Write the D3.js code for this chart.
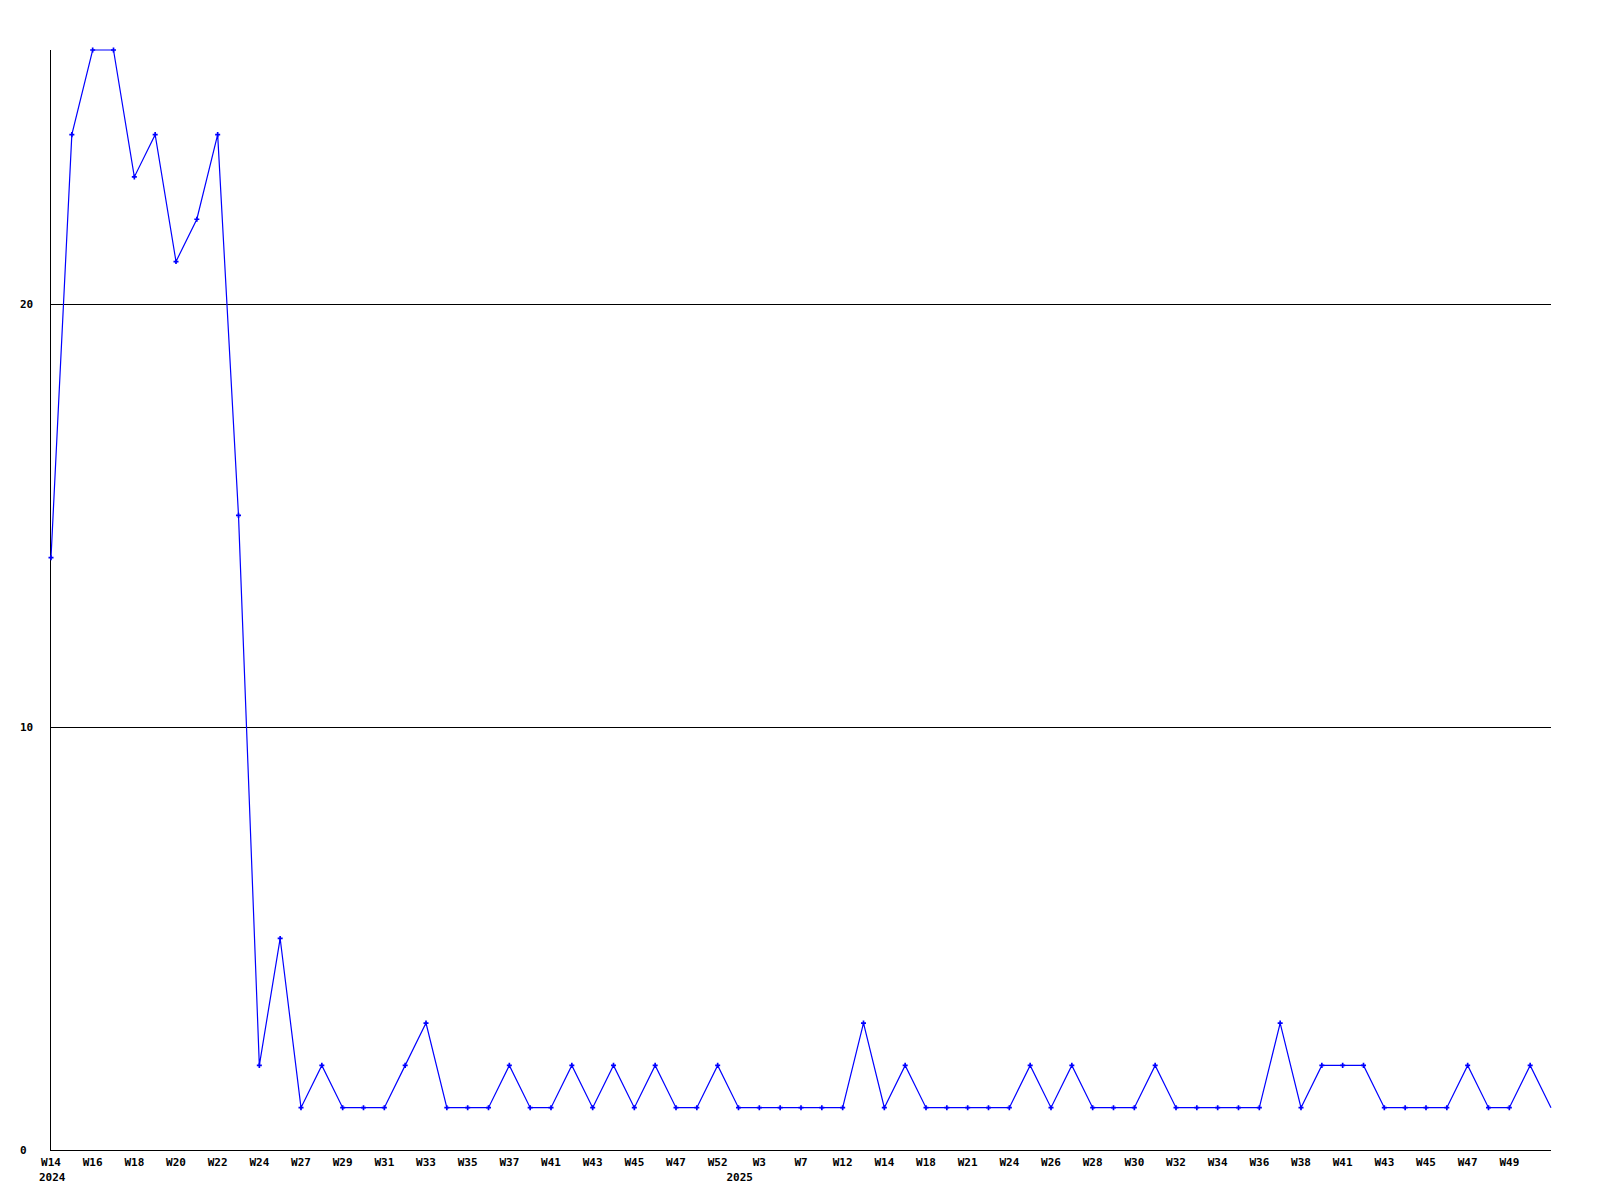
<!DOCTYPE html>
<html lang="en">
<head>
<meta charset="UTF-8">
<title>Weekly counts</title>
<script src="https://d3js.org/d3.v7.min.js"></script>
<style>
  body { margin: 0; background: #fff; }
  text { font-family: "DejaVu Sans Mono", monospace; font-weight: bold; font-size: 11px; fill: #000; }
</style>
</head>
<body>
<svg id="chart" width="1600" height="1200"></svg>
<script>
// one entry per week, 2024 W14 .. 2025 W51
var weeks = ["W14","W15","W16","W17","W18","W19","W20","W21","W22","W23","W24","W26",
  "W27","W28","W29","W30","W31","W32","W33","W34","W35","W36","W37","W40",
  "W41","W42","W43","W44","W45","W46","W47","W50","W52","W2","W3","W5",
  "W7","W10","W12","W13","W14","W16","W18","W20","W21","W23","W24","W25",
  "W26","W27","W28","W29","W30","W31","W32","W33","W34","W35","W36","W37",
  "W38","W40","W41","W42","W43","W44","W45","W46","W47","W48","W49","W50","W51"];
var counts = [14,24,26,26,23,24,21,22,24,15,2,5,
  1,2,1,1,1,2,3,1,1,1,2,1,
  1,2,1,2,1,2,1,1,2,1,1,1,
  1,1,1,3,1,2,1,1,1,1,1,2,
  1,2,1,1,1,2,1,1,1,1,1,3,
  1,2,2,2,1,1,1,1,2,1,1,2,1];
// index of first week of each year
var yearStarts = [[0, "2024"], [33, "2025"]];
var yTicks = [0, 10, 20];

var svg = d3.select("#chart");
var plotL = 51, plotR = 1551, plotT = 50, plotB = 1150;

var x = d3.scalePoint().domain(d3.range(weeks.length)).range([plotL, plotR]);
var y = d3.scaleLinear().domain([0, 26]).range([plotB, plotT]);

// grid lines
svg.append("g").selectAll("line")
  .data(yTicks.filter(d => d > 0))
  .enter().append("line")
  .attr("x1", plotL - 1).attr("x2", plotR)
  .attr("y1", d => Math.round(y(d)) + 0.5).attr("y2", d => Math.round(y(d)) + 0.5)
  .attr("stroke", "#000");

// axes
svg.append("line").attr("x1", plotL - 0.5).attr("x2", plotL - 0.5)
  .attr("y1", plotT).attr("y2", plotB).attr("stroke", "#000");
svg.append("line").attr("x1", plotL - 1).attr("x2", plotR)
  .attr("y1", plotB + 0.5).attr("y2", plotB + 0.5).attr("stroke", "#000");

svg.append("g").selectAll("text")
  .data(yTicks)
  .enter().append("text")
  .attr("x", 20).attr("y", d => y(d)).attr("dy", "0.35em")
  .text(d => d);

// week labels, every second week
svg.append("g").selectAll("text")
  .data(d3.range(0, weeks.length - 1, 2))
  .enter().append("text")
  .attr("x", i => x(i)).attr("y", 1162).attr("dy", "0.35em")
  .attr("text-anchor", "middle")
  .text(i => weeks[i]);

svg.append("g").selectAll("text")
  .data(yearStarts)
  .enter().append("text")
  .attr("x", d => x(d[0]) - 12).attr("y", 1177).attr("dy", "0.35em")
  .text(d => d[1]);

// series
var line = d3.line().x((d, i) => x(i)).y(d => y(d));
svg.append("path").datum(counts)
  .attr("d", line)
  .attr("fill", "none").attr("stroke", "#0000ff").attr("stroke-width", 1.2);

svg.append("g").selectAll("path")
  .data(counts.slice(0, -1))
  .enter().append("path")
  .attr("transform", (d, i) => "translate(" + x(i) + "," + y(d) + ")")
  .attr("d", d3.symbol().type(d3.symbolCross).size(14))
  .attr("fill", "#0000ff");
</script>
</body>
</html>
